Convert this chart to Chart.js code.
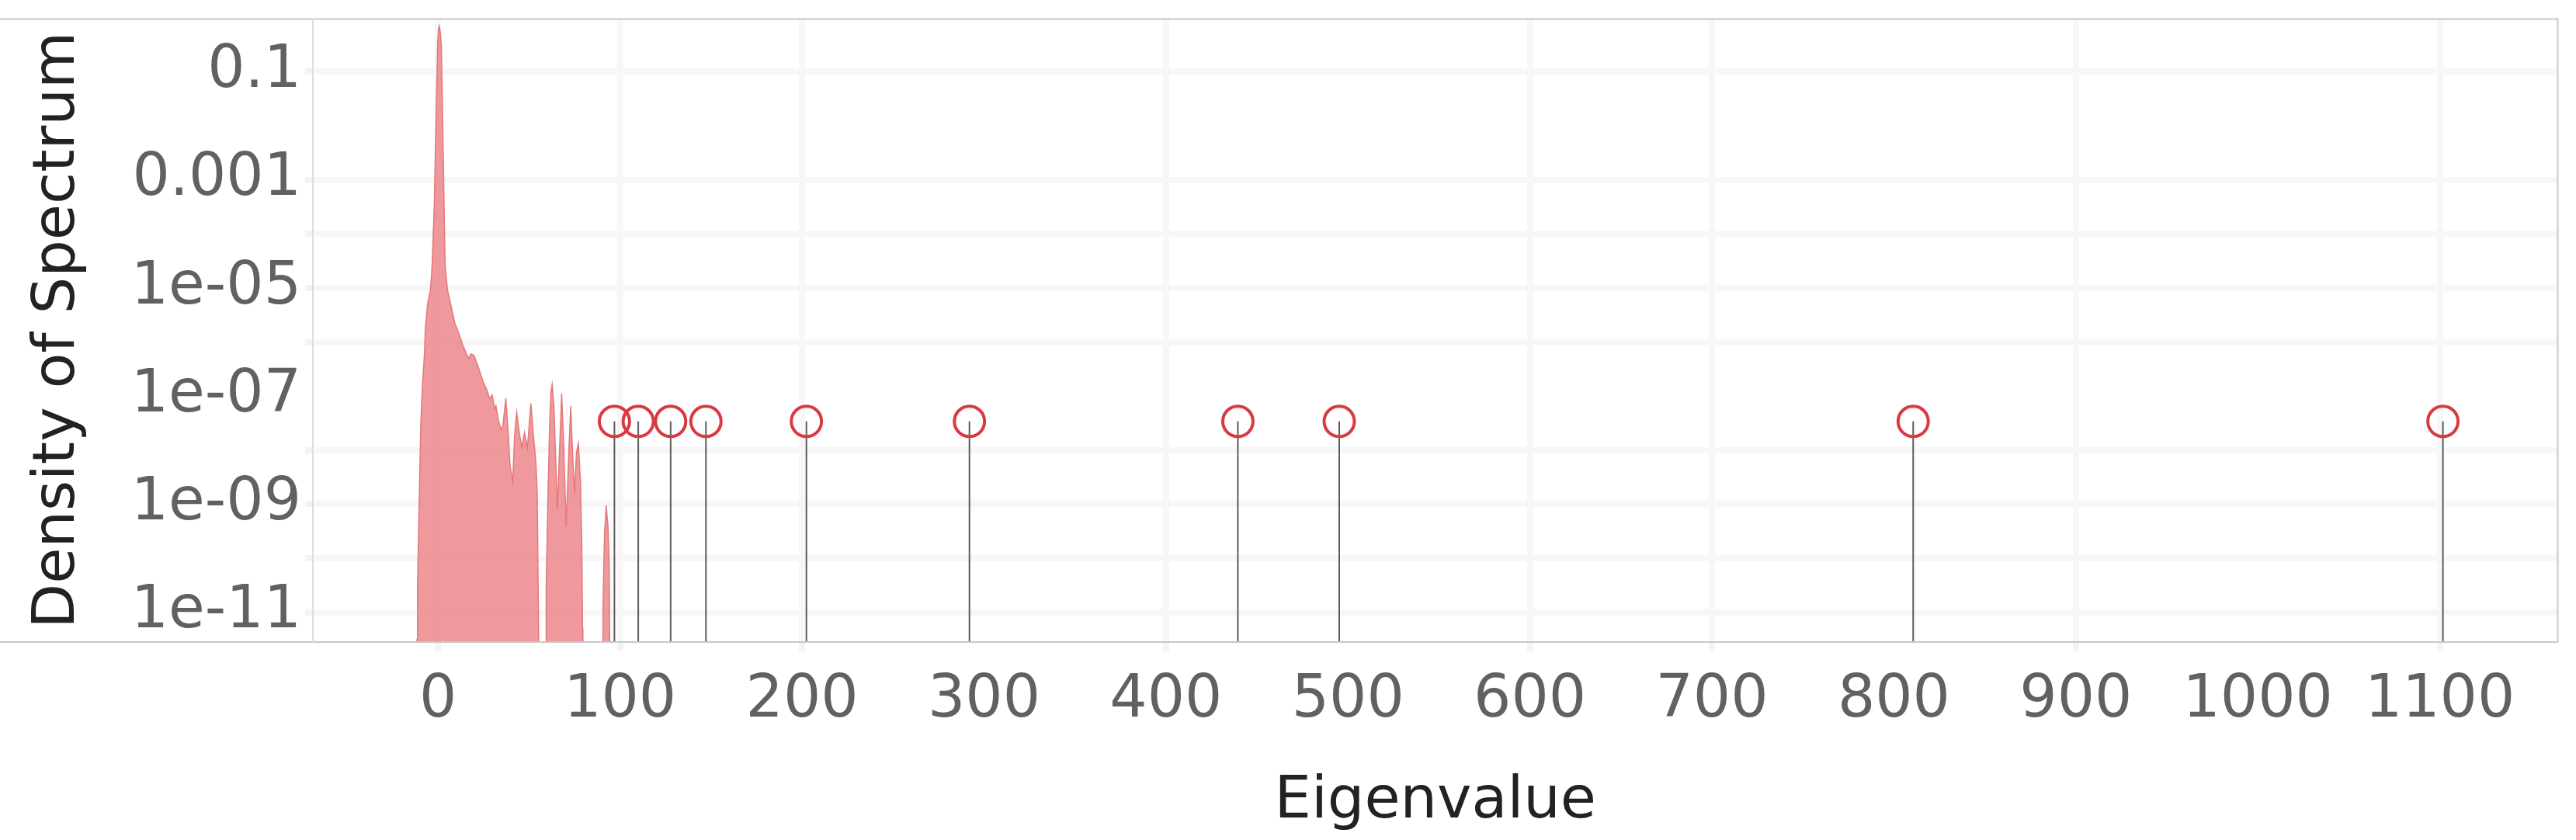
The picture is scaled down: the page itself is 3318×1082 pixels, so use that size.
<!DOCTYPE html>
<html>
<head>
<meta charset="utf-8">
<script src="https://cdn.jsdelivr.net/npm/chart.js@4/dist/chart.umd.min.js"></script>
<style>
  html, body { margin: 0; padding: 0; background: #ffffff; }
  #wrap { width: 3318px; height: 1082px; }
</style>
</head>
<body>
<div id="wrap"><canvas id="c" width="3318" height="1082"></canvas></div>
<script>
// ---------- data ----------
const densityX = [
  -12.5, -11.6, -11.3, -10.3, -9.5, -8.5, -7.5, -7.0, -5.7, -4.2, -3.3, -2.1, -1.0, -0.2,
  0.2, 0.7, 1.2, 1.8, 2.4, 3.3, 3.9, 5.2, 7.1, 9.2, 11.3, 13.5, 15.6, 16.8, 18.0, 19.8,
  21.2, 22.5, 24.8, 26.9, 28.3, 29.7, 31.1, 31.8, 33.2, 34.7, 35.6, 37.2, 38.4, 39.6,
  41.0, 42.0, 43.2, 44.6, 46.0, 47.5, 49.1, 51.0, 52.4, 53.8, 54.5, 55.2, 55.6,
  59.2, 59.4, 60.4, 61.3, 62.0, 62.7, 63.7, 65.5, 67.0, 67.9, 68.9, 70.4, 71.8, 72.9,
  73.9, 75.0, 76.0, 77.1, 78.3, 79.0, 79.4, 79.6,
  90.3, 90.7, 91.5, 92.4, 93.4, 94.1, 94.5
];
const densityY = [
  1e-13, 3.16e-12, 3.16e-11, 1.58e-9, 3.16e-8, 1.78e-7, 6.03e-7, 1.78e-6, 5.37e-6, 9.12e-6, 2.51e-5, 3.31e-4, 0.0229, 0.35,
  0.62, 0.70, 0.55, 0.316, 0.0229, 3.31e-4, 2.51e-5, 9.12e-6, 4.79e-6, 2.24e-6, 1.48e-6, 8.91e-7, 6.03e-7, 5.01e-7, 6.03e-7, 5.62e-7,
  4.17e-7, 3.16e-7, 1.82e-7, 1.29e-7, 8.91e-8, 1.05e-7, 5.75e-8, 6.61e-8, 3.47e-8, 2.40e-8, 2.82e-8, 9.12e-8, 2.51e-8, 5.01e-9,
  2.63e-9, 1.78e-8, 5.01e-8, 2.14e-8, 1.12e-8, 2.14e-8, 1.12e-8, 7.41e-8, 1.86e-8, 5.75e-9, 1.58e-9, 6.31e-12, 1e-13,
  1e-13, 3.16e-11, 1.58e-9, 2.95e-8, 1.20e-7, 1.66e-7, 6.31e-8, 7.94e-10, 1.70e-8, 1.12e-7, 1.70e-8, 3.98e-10, 8.91e-9, 6.61e-8,
  8.91e-9, 1.58e-9, 8.91e-9, 1.35e-8, 2.40e-9, 1.78e-10, 5.01e-12, 1e-13,
  1e-13, 2.0e-11, 3.09e-10, 9.55e-10, 3.72e-10, 6.31e-11, 1e-13
];
const eigenvalues = [96.9, 110.0, 127.8, 147.2, 202.4, 292.0, 439.5, 495.2, 810.6, 1101.7];
const markerLevel = 3.4e-8;
const stemFloor = 1e-13;

const xTickValues = [0, 100, 200, 300, 400, 500, 600, 700, 800, 900, 1000, 1100];
const xTickLabels = ['0', '100', '200', '300', '400', '500', '600', '700', '800', '900', '1000', '1100'];
const yTickValues = [1e-11, 1e-10, 1e-9, 1e-8, 1e-7, 1e-6, 1e-5, 1e-4, 1e-3, 1e-2, 1e-1];
const yTickLabels = ['1e-11', '', '1e-09', '', '1e-07', '', '1e-05', '', '0.001', '', '0.1'];
const xRange = [-68.8, 1164.8];
const yRange = [2.82e-12, 0.977];

// gridlines absent in the reference
const hiddenXGrid = [300, 500, 800, 1000];
const hiddenYGrid = [1e-2, 1e-7];

// ---------- styling ----------
const FONT = "'DejaVu Sans', sans-serif";
const GRID = '#f7f7f7';

const densityPoints = densityX.map((x, i) => ({ x: x, y: densityY[i] }));

const stemDatasets = eigenvalues.map(e => ({
  type: 'line',
  data: [{ x: e, y: stemFloor }, { x: e, y: markerLevel }],
  borderColor: '#5c5c5c',
  borderWidth: 2,
  pointRadius: 0,
  fill: false,
  tension: 0
}));

const circleDataset = {
  type: 'scatter',
  data: eigenvalues.map(e => ({ x: e, y: markerLevel })),
  pointStyle: 'circle',
  pointRadius: 19.5,
  pointBorderWidth: 4,
  pointBackgroundColor: 'rgba(0,0,0,0)',
  pointBorderColor: '#d93a40',
  showLine: false
};

const densityDataset = {
  type: 'line',
  data: densityPoints,
  borderColor: 'rgba(228,112,110,0.9)',
  borderWidth: 1.5,
  backgroundColor: 'rgba(236,136,142,0.86)',
  fill: 'start',
  pointRadius: 0,
  tension: 0
};

const framePlugin = {
  id: 'frame',
  afterDatasetsDraw(chart) {
    const { ctx, chartArea: a } = chart;
    ctx.save();
    ctx.lineWidth = 2;
    ctx.strokeStyle = '#c8c8c8';
    ctx.beginPath();
    ctx.moveTo(0, a.top + 1); ctx.lineTo(a.right, a.top + 1);
    ctx.moveTo(0, a.bottom); ctx.lineTo(a.right + 1, a.bottom);
    ctx.moveTo(a.right, a.top); ctx.lineTo(a.right, a.bottom);
    ctx.stroke();
    ctx.strokeStyle = '#dedede';
    ctx.beginPath();
    ctx.moveTo(a.left, a.top); ctx.lineTo(a.left, a.bottom);
    ctx.stroke();
    ctx.restore();
  }
};

const near = (a, b) => Math.abs(a - b) < 1e-9;
const nearLog = (a, b) => Math.abs(Math.log10(a) - Math.log10(b)) < 1e-6;

new Chart(document.getElementById('c'), {
  type: 'line',
  data: { datasets: [circleDataset, ...stemDatasets, densityDataset] },
  plugins: [framePlugin],
  options: {
    responsive: false,
    animation: false,
    events: [],
    layout: { padding: { top: 12, right: 10, left: 0, bottom: 0 } },
    plugins: { legend: { display: false }, tooltip: { enabled: false } },
    scales: {
      x: {
        type: 'linear',
        min: xRange[0],
        max: xRange[1],
        afterBuildTicks(scale) { scale.ticks = xTickValues.map(v => ({ value: v })); },
        afterFit(scale) { scale.height = 255; scale.paddingLeft = 0; scale.paddingRight = 0; },
        ticks: {
          autoSkip: false,
          maxRotation: 0,
          padding: 19,
          color: '#616161',
          font: { family: FONT, size: 76 },
          callback: (v, i) => xTickLabels[i]
        },
        grid: {
          lineWidth: 8,
          color: ctx => (ctx.tick && hiddenXGrid.some(h => near(h, ctx.tick.value))) ? 'rgba(0,0,0,0)' : GRID,
          drawTicks: true,
          tickLength: 12,
          tickColor: ctx => (ctx.tick && hiddenXGrid.some(h => near(h, ctx.tick.value))) ? 'rgba(0,0,0,0)' : '#f3f3f3'
        },
        border: { display: false },
        title: {
          display: true,
          text: 'Eigenvalue',
          color: '#222222',
          font: { family: FONT, size: 75 },
          padding: { top: 0, bottom: 3 }
        }
      },
      y: {
        type: 'logarithmic',
        min: yRange[0],
        max: yRange[1],
        afterBuildTicks(scale) { scale.ticks = yTickValues.map(v => ({ value: v })); },
        afterFit(scale) { scale.width = 403; scale.paddingTop = 0; scale.paddingBottom = 0; },
        ticks: {
          autoSkip: false,
          padding: 5,
          color: '#616161',
          font: { family: FONT, size: 76 },
          callback: (v, i) => yTickLabels[i]
        },
        grid: {
          lineWidth: 8,
          color: ctx => (ctx.tick && hiddenYGrid.some(h => nearLog(h, ctx.tick.value))) ? 'rgba(0,0,0,0)' : GRID,
          drawTicks: true,
          tickLength: 10,
          tickColor: ctx => (ctx.tick && hiddenYGrid.some(h => nearLog(h, ctx.tick.value))) ? 'rgba(0,0,0,0)' : '#f3f3f3'
        },
        border: { display: false },
        title: {
          display: true,
          text: 'Density of Spectrum',
          color: '#222222',
          font: { family: FONT, size: 75 },
          padding: { top: 31, bottom: 0 }
        }
      }
    }
  }
});
</script>
</body>
</html>
